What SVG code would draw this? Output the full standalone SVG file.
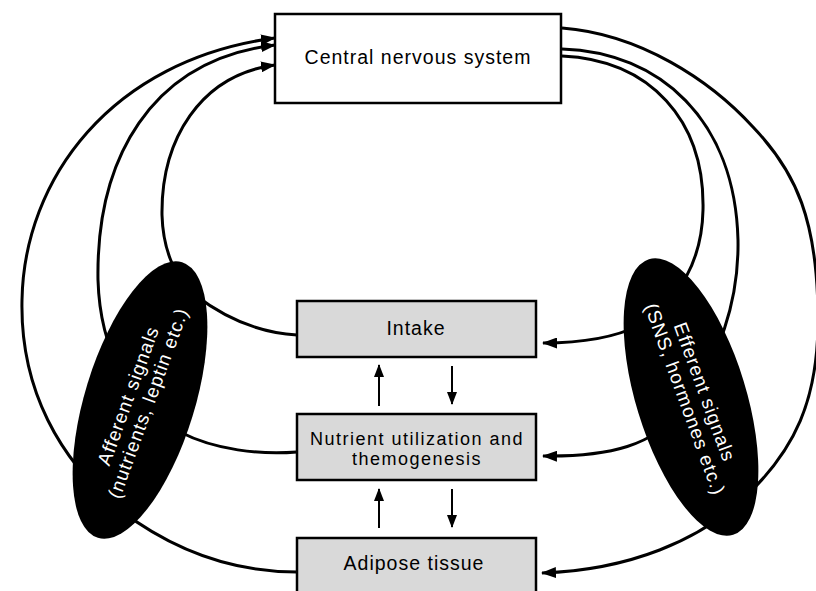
<svg xmlns="http://www.w3.org/2000/svg" width="816" height="591" viewBox="0 0 816 591">
  <defs>
    <style>
      .box { fill: #ffffff; stroke: #000; stroke-width: 2.5; }
      .gbox { fill: #d9d9d9; stroke: #000; stroke-width: 2.5; }
      .lbl { font-family: "Liberation Sans", Arial, Helvetica, sans-serif; font-size: 19.5px; letter-spacing: 1px; fill: #000; text-anchor: middle; }
      .lbl2 { font-family: "Liberation Sans", Arial, Helvetica, sans-serif; font-size: 18px; letter-spacing: 1.5px; fill: #000; text-anchor: middle; }
      .wlbl { font-family: "Liberation Sans", Arial, Helvetica, sans-serif; font-size: 19px; letter-spacing: 1px; fill: #fff; text-anchor: middle; }
      .conn { fill: none; stroke: #000; stroke-width: 3; }
      .conna { fill: none; stroke: #000; stroke-width: 3; marker-end: url(#arr); }
      .small { fill: none; stroke: #000; stroke-width: 2; marker-end: url(#arrs); }
      .oval { fill: #000; }
    </style>
    <marker id="arr" markerUnits="userSpaceOnUse" viewBox="0 0 15 11" markerWidth="15" markerHeight="11" refX="14" refY="5.5" orient="auto">
      <path d="M0,0 L15,5.5 L0,11 z" fill="#000"/>
    </marker>
    <marker id="arrs" markerUnits="userSpaceOnUse" viewBox="0 0 13 10" markerWidth="13" markerHeight="10" refX="12" refY="5" orient="auto">
      <path d="M0,0 L13,5 L0,10 z" fill="#000"/>
    </marker>
  </defs>
  <rect x="0" y="0" width="816" height="591" fill="#ffffff"/>

  <g id="connectors">
    <!-- afferent: boxes to CNS -->
    <path class="conna" d="M297,335 C260,333 225,318 195,295 C175,278 163,250 162,215 C161,140 200,75 275,65"/>
    <path class="conna" d="M297,452 C260,455 215,450 180,432 C130,405 100,350 98,280 C96,160 150,60 275,45"/>
    <path class="conna" d="M297,572 C230,572 170,548 120,510 C60,460 20,390 22,300 C24,180 110,60 275,38"/>
    <!-- efferent: CNS to boxes -->
    <path class="conna" d="M562,56 C650,60 705,120 703,210 C702,260 680,300 640,325 C610,340 575,343 543,343"/>
    <path class="conna" d="M562,49 C660,52 735,120 738,240 C739,300 720,360 680,410 C655,445 610,457 543,456"/>
    <path class="conna" d="M562,28 C640,34 710,80 753,127 C796,172 818,220 818,320 C818,400 795,450 745,497 C700,540 630,570 542,573"/>
    <!-- vertical arrows between boxes -->
    <path class="small" d="M379,406 L379,365"/>
    <path class="small" d="M452,366 L452,404"/>
    <path class="small" d="M379,528 L379,489"/>
    <path class="small" d="M452,489 L452,527"/>
  </g>

  <g id="node-afferent">
    <ellipse class="oval" cx="140" cy="400" rx="55" ry="144" transform="rotate(17 140 400)"/>
    <g transform="translate(140,400) rotate(-70)">
      <text class="wlbl" x="0" y="-6">Afferent signals</text>
      <text class="wlbl" x="0" y="15">(nutrients, leptin etc.)</text>
    </g>
  </g>

  <g id="node-efferent">
    <ellipse class="oval" cx="691" cy="397" rx="55" ry="144" transform="rotate(-17 691 397)"/>
    <g transform="translate(691,397) rotate(70)">
      <text class="wlbl" x="0" y="-8">Efferent signals</text>
      <text class="wlbl" x="0" y="13">(SNS, hormones etc.)</text>
    </g>
  </g>

  <g id="node-cns">
    <rect class="box" x="275" y="14" width="286" height="89"/>
    <text class="lbl" x="418" y="64">Central nervous system</text>
  </g>

  <g id="node-intake">
    <rect class="gbox" x="297" y="301" width="239" height="56"/>
    <text class="lbl" x="416" y="335">Intake</text>
  </g>

  <g id="node-nutrient">
    <rect class="gbox" x="297" y="414" width="239" height="66"/>
    <text class="lbl2" x="417" y="445">Nutrient utilization and</text>
    <text class="lbl2" x="417" y="465">themogenesis</text>
  </g>

  <g id="node-adipose">
    <rect class="gbox" x="297" y="538" width="239" height="62"/>
    <text class="lbl" x="414" y="570">Adipose tissue</text>
  </g>
</svg>
